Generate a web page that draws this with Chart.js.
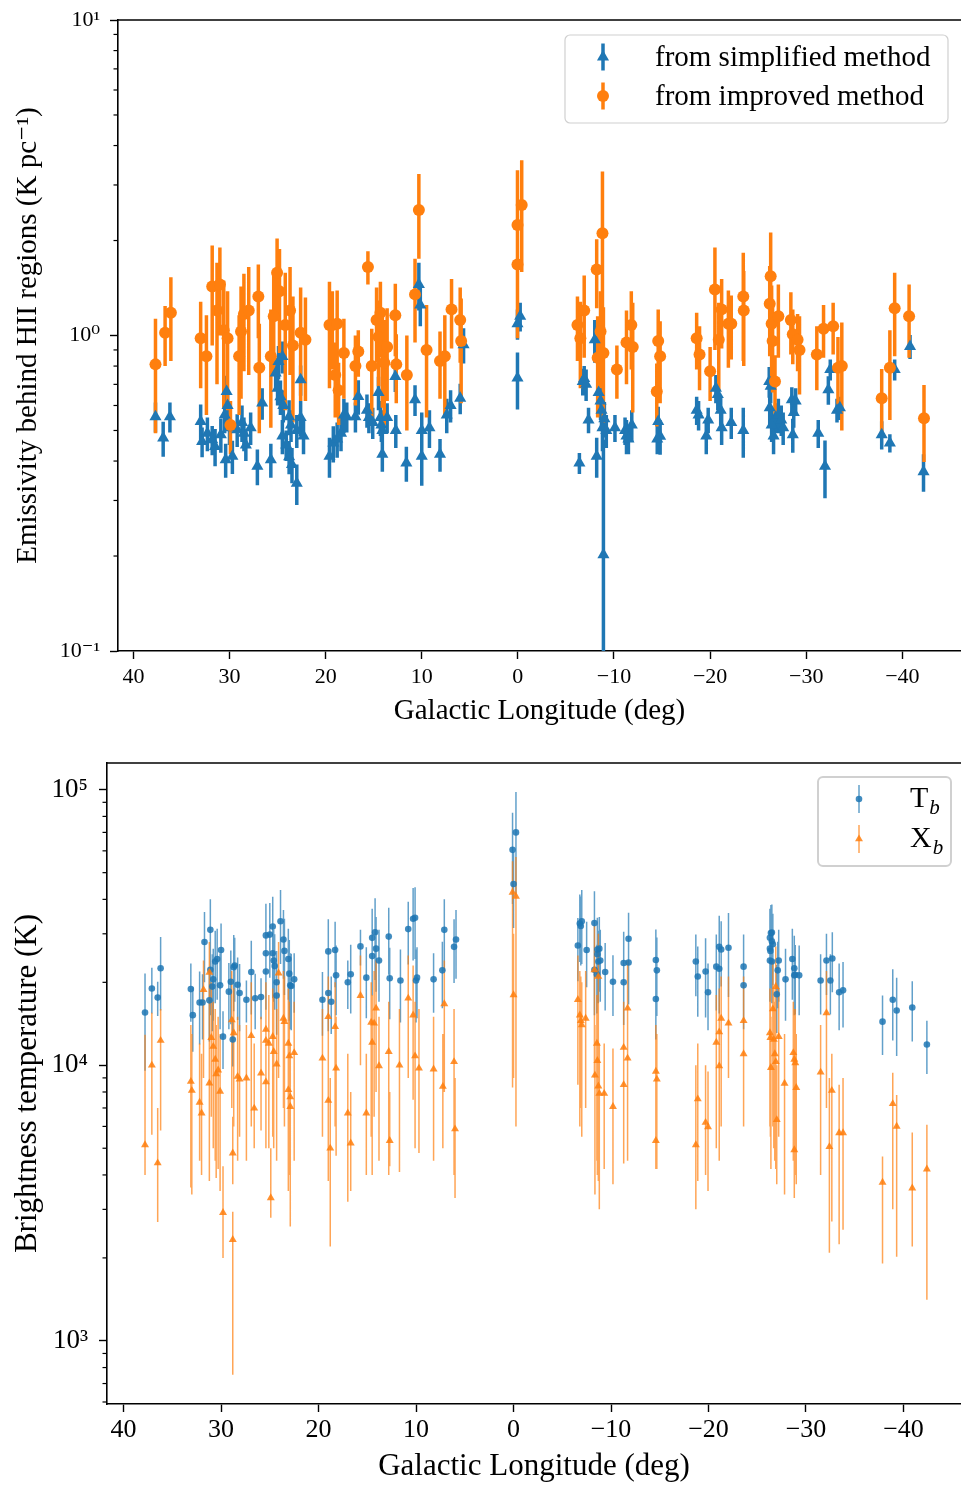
<!DOCTYPE html>
<html>
<head>
<meta charset="utf-8">
<script src="https://cdn.jsdelivr.net/npm/chart.js@4.4.0/dist/chart.umd.min.js"></script>
<style>
  html, body { margin: 0; padding: 0; background: #fff; }
  .panel { position: absolute; left: 0; width: 961px; }
  #p1 { top: 0; height: 740px; }
  #p2 { top: 740px; height: 746px; }
</style>
</head>
<body>
<div class="panel" id="p1"><canvas id="c1" width="961" height="740"></canvas></div>
<div class="panel" id="p2"><canvas id="c2" width="961" height="746"></canvas></div>
<script>
// ---- top panel: emissivity behind HII regions ----
const simpLon = [37.7, 36.9, 36.2, 33.0, 32.85, 32.3, 31.8, 31.5, 30.9, 30.5, 30.3, 30.2, 30.0, 30.4, 29.7, 29.2, 28.7, 28.5, 28.3, 27.8,
  27.1, 26.6, 25.7, 25.2, 24.9, 24.5, 25.0, 24.7, 24.4, 23.8, 23.6, 23.0, 22.6, 24.5, 24.1, 23.8, 23.5, 23.0, 22.3, 22.6,
  19.6, 19.2, 18.8, 18.4, 18.1, 17.8, 16.9, 16.6, 15.7, 15.5, 15.1, 14.5, 14.3, 14.2, 14.1, 14.1, 13.6, 12.75, 12.7, 11.6,
  10.7, 10.3, 10.15, 10.0, 10.0, 9.2, 8.1, 7.4, 7.0, 6.0, 5.65,
  0.04, -0.24, 0.04, -6.4, -6.75, -6.9, -7.1, -7.35, -8.0, -8.2, -8.4, -8.6, -8.7, -8.8, -8.9, -9.0, -9.2, -10.1, -11.15, -11.3,
  -11.85, -11.5, -14.6, -14.8, -14.5, -18.6, -18.8, -19.8, -19.6, -20.6, -20.8, -21.1, -21.2, -22.2, -23.45, -26.15, -26.3, -26.2, -26.4, -26.6,
  -26.8, -27.1, -27.4, -27.6, -28.5, -28.7, -28.9, -28.6, -31.25, -31.95, -32.3, -32.5, -33.2, -33.5, -37.85, -38.7, -39.2, -40.8, -42.2];
const simpVal = [0.553, 0.473, 0.553, 0.534, 0.461, 0.49, 0.467, 0.445, 0.485, 0.56, 0.665, 0.60, 0.51, 0.404, 0.414, 0.503, 0.53, 0.49, 0.45, 0.51,
  0.385, 0.611, 0.404, 0.76, 0.827, 0.858, 0.68, 0.64, 0.60, 0.553, 0.52, 0.50, 0.724, 0.48, 0.45, 0.413, 0.39, 0.34, 0.48, 0.55,
  0.414, 0.456, 0.47, 0.49, 0.56, 0.553, 0.553, 0.641, 0.58, 0.55, 0.53, 0.66, 0.55, 0.52, 0.50, 0.42, 0.55, 0.742, 0.50, 0.394,
  0.626, 1.45, 1.25, 0.414, 0.50, 0.51, 0.42, 0.56, 0.60, 0.633, 0.935,
  1.09, 1.15, 0.733, 0.394, 0.715, 0.73, 0.70, 0.54, 0.97, 0.414, 0.66, 0.62, 0.58, 0.51, 0.202, 0.545, 0.50, 0.51, 0.50, 0.48,
  0.52, 0.47, 0.534, 0.479, 0.47, 0.58, 0.56, 0.54, 0.48, 0.68, 0.65, 0.58, 0.51, 0.53, 0.50, 0.715, 0.69, 0.59, 0.52, 0.48,
  0.55, 0.56, 0.54, 0.51, 0.626, 0.57, 0.62, 0.485, 0.49, 0.385, 0.673, 0.78, 0.58, 0.59, 0.485, 0.456, 0.78, 0.923, 0.37];
const simpErr = [.06, .06, .06, .07, .05, .06, .05, .06, .06, .07, .08, .07, .06, .05, .05, .06, .07, .06, .05, .06,
  .05, .07, .05, .09, .10, .10, .08, .08, .07, .07, .06, .06, .08, .06, .05, .05, .05, .05, .06, .07,
  .06, .06, .06, .06, .07, .06, .06, .08, .07, .06, .06, .08, .07, .06, .06, .05, .06, .08, .06, .05,
  .07, .25, .18, .08, .07, .07, .05, .07, .07, .07, .12,
  .12, .12, .15, .03, .07, .07, .08, .05, .15, .06, .09, .08, .08, .08, .265, .07, .06, .05, .05, .06,
  .06, .05, .06, .06, .05, .06, .06, .05, .06, .07, .07, .06, .06, .06, .09, .08, .08, .07, .06, .06,
  .06, .07, .06, .06, .06, .06, .06, .06, .05, .08, .07, .06, .05, .05, .05, .03, .06, .08, .05];

const impLon = [37.7, 36.7, 36.1, 33.0, 32.4, 31.8, 31.0, 31.3, 30.6, 29.9, 30.2, 29.0, 28.8, 28.5, 28.0, 27.0, 26.9, 25.7, 25.4, 25.05,
  24.8, 24.2, 23.7, 23.4, 22.6, 22.1, 19.6, 19.3, 19.0, 18.8, 18.65, 18.1, 16.9, 16.6, 15.6, 15.2, 14.7, 14.5, 14.3, 14.1,
  13.9, 13.6, 12.75, 12.65, 11.55, 10.7, 10.3, 9.5, 8.1, 7.6, 6.9, 6.0, 5.9,
  0.04, 0.04, -0.4, -6.2, -6.5, -6.9, -8.2, -8.8, -8.6, -8.3, -8.9, -10.3, -11.3, -11.95, -11.8, -14.6, -14.8, -14.45, -18.6, -18.9,
  -20.0, -20.5, -20.9, -21.2, -21.9, -22.2, -23.45, -23.5, -26.3, -26.2, -26.4, -26.5, -26.75, -27.1, -28.4, -28.6, -29.1, -29.3, -31.1, -31.8,
  -32.8, -33.3, -33.7, -37.85, -38.7, -39.2, -40.7, -42.25];
const impVal = [0.81, 1.02, 1.18, 0.98, 0.86, 1.43, 1.45, 1.20, 1.04, 0.52, 0.98, 0.86, 1.03, 1.17, 1.20, 1.33, 0.79, 0.86, 1.15, 1.58,
  1.38, 1.08, 1.20, 0.93, 1.02, 0.97, 1.08, 1.08, 0.75, 1.09, 0.67, 0.88, 0.80, 0.89, 1.65, 0.80, 1.12, 0.99, 1.18, 0.89,
  0.82, 0.92, 1.16, 0.81, 0.75, 1.35, 2.50, 0.90, 0.83, 0.86, 1.21, 1.12, 0.96,
  2.24, 1.68, 2.59, 1.08, 0.98, 1.20, 1.62, 2.11, 1.03, 0.85, 0.88, 0.78, 0.95, 0.92, 1.08, 0.96, 0.86, 0.665, 0.98, 0.87,
  0.77, 1.40, 0.97, 1.21, 1.09, 1.09, 1.33, 1.20, 1.54, 1.26, 1.09, 0.96, 0.715, 1.15, 1.12, 1.01, 0.97, 0.90, 0.87, 1.05,
  1.07, 0.79, 0.80, 0.633, 0.79, 1.22, 1.15, 0.547];
const impErr = [.32, .22, .35, .30, .30, .50, .45, .50, .45, .10, .40, .30, .40, .40, .45, .35, .30, .35, .40, .45,
  .50, .50, .45, .40, .40, .35, .40, .30, .20, .30, .15, .25, .20, .15, .20, .25, .30, .30, .30, .30,
  .30, .30, .30, .20, .25, .40, .75, .35, .20, .30, .30, .30, .35,
  1.1, .70, 1.0, .25, .30, .35, .40, 1.2, .35, .30, .35, .15, .25, .35, .30, .25, .25, .15, .20, .20,
  .15, .50, .30, .30, .30, .25, .50, .40, .58, .40, .35, .30, .15, .30, .25, .20, .20, .25, .20, .20,
  .20, .20, .30, .15, .25, .36, .30, .15];

const topXTicks = [40, 30, 20, 10, 0, -10, -20, -30, -40];
const topYTicks = [0.1, 1, 10];

// ---- bottom panel: brightness temperature ----
const tbLon = [37.8, 37.1, 36.5, 36.2, 33.1, 32.9, 32.2, 31.9, 31.7, 31.1, 31.1, 31.2, 30.9, 30.8, 30.6, 30.4, 30.0, 30.1, 29.8, 29.2,
  29.0, 28.8, 28.7, 28.6, 28.3, 28.1, 27.4, 26.9, 26.5, 25.9, 25.4, 25.4, 25.4, 25.0, 24.7, 24.7, 24.6, 24.5, 24.3, 24.3,
  23.9, 23.6, 23.5, 23.1, 23.0, 22.9, 22.8, 22.5, 19.6, 19.0, 19.0, 18.7, 18.3, 18.2, 17.0, 16.7, 15.7, 15.1, 14.5, 14.5,
  14.2, 14.1, 13.8, 12.8, 12.7, 11.6, 10.8, 10.3, 10.1, 10.0, 9.9, 8.2, 7.3, 7.1, 6.1, 5.9, 0.1, -0.25, 0.0, -6.6,
  -6.8, -7.0, -6.9, -7.5, -8.3, -8.3, -8.6, -8.6, -8.7, -8.8, -8.9, -8.55, -9.4, -10.2, -11.3, -11.3, -11.8, -11.8, -14.6, -14.7,
  -14.6, -18.7, -18.9, -19.7, -19.95, -20.8, -21.1, -21.1, -21.3, -22.05, -23.6, -23.6, -26.3, -26.4, -26.5, -26.3, -26.35, -26.3, -26.5, -26.6,
  -26.5, -27.1, -27.2, -27.0, -27.9, -28.6, -28.8, -28.9, -28.8, -29.3, -31.5, -32.1, -32.5, -32.7, -33.4, -33.8, -37.85, -38.9, -39.3, -40.9,
  -42.4];
const tbVal = [15550, 19000, 17600, 22500, 18900, 15200, 16900, 16900, 28000, 31000, 22200, 17200, 19300, 20500, 23800, 24300, 26200, 19500, 12700, 18500,
  20100, 12400, 22700, 23000, 19600, 18300, 17300, 21800, 17500, 17700, 21900, 25500, 29600, 29800, 31900, 25500, 24000, 22900, 20000, 17900,
  33300, 28600, 26000, 24300, 21500, 19500, 19400, 20500, 17300, 25900, 18300, 17000, 26200, 21200, 20000, 21400, 27000, 20800, 29000, 24900,
  30400, 26500, 24000, 29300, 20700, 20300, 31200, 34000, 34300, 20300, 20800, 20500, 22100, 31000, 26900, 28600, 60500, 70000, 45500, 27200,
  32700, 33300, 32000, 26200, 32800, 22200, 25300, 26300, 23800, 26500, 24000, 21400, 21800, 20100, 23500, 20000, 28800, 23600, 24100, 22100,
  17400, 23800, 21000, 21900, 18400, 22800, 26900, 22400, 26300, 26700, 22800, 19500, 29000, 30200, 30300, 26500, 26000, 24000, 28200, 27500,
  23800, 22100, 24000, 18100, 20500, 24300, 22500, 21300, 21200, 21200, 20300, 24000, 20300, 24400, 18400, 18700, 14400, 17300, 15800, 16200,
  11900];
const tbErr = [6000, 3600, 2500, 6700, 4500, 4000, 5000, 4500, 8000, 9000, 7000, 5000, 6000, 6000, 7000, 7000, 6500, 6000, 3000, 5000,
  6000, 2500, 7000, 6000, 5000, 5000, 3000, 6500, 4000, 3000, 6000, 8000, 9000, 9000, 9000, 8000, 7000, 7000, 6000, 5000,
  10000, 8000, 8000, 7000, 7000, 6000, 6000, 5000, 4500, 8000, 5000, 4000, 7000, 6000, 4000, 6000, 4000, 6000, 8000, 7000,
  10000, 8000, 7000, 8000, 6000, 6000, 8000, 10000, 10000, 6000, 6000, 5000, 6000, 9000, 7000, 8000, 22000, 28000, 14000, 7000,
  9000, 10000, 9000, 7000, 10000, 7000, 8000, 8000, 7000, 8000, 7000, 6000, 6000, 5000, 7000, 6000, 7000, 7000, 7000, 7000,
  5000, 6000, 6000, 7000, 5000, 7000, 8000, 7000, 7000, 9000, 7000, 6000, 8000, 8000, 8000, 7000, 7000, 7000, 8000, 8000,
  7000, 6000, 7000, 5000, 6000, 7000, 7000, 6000, 6000, 6000, 5000, 6000, 5000, 6000, 5000, 5000, 3500, 5000, 5000, 4000,
  2600];

const xbLon = [37.8, 37.1, 36.5, 36.2, 33.1, 33.0, 32.2, 32.0, 31.8, 31.2, 31.2, 31.0, 30.8, 30.6, 30.5, 30.3, 30.1, 29.8, 28.9, 28.7,
  28.8, 28.8, 28.3, 28.1, 27.4, 26.9, 26.6, 25.9, 25.4, 25.4, 25.4, 24.9, 25.1, 24.7, 24.6, 24.3, 24.1, 23.6, 23.5, 23.1,
  23.0, 23.1, 22.9, 22.9, 22.5, 19.6, 19.0, 19.0, 18.8, 18.3, 18.2, 17.0, 16.7, 15.7, 15.1, 14.6, 14.5, 14.3, 14.1, 13.8,
  12.8, 12.7, 11.7, 10.8, 10.3, 10.1, 9.7, 8.2, 7.25, 7.1, 6.1, 6.0,
  0.1, -0.25, 0.0, -6.6, -6.8, -6.9, -7.0, -7.4,
  -8.3, -8.7, -8.35, -8.55, -8.6, -8.7, -8.8, -9.3, -10.2, -11.3, -11.3, -11.7, -11.7, -14.6, -14.7, -14.6, -18.9, -18.7, -19.7, -19.95,
  -20.8, -21.1, -21.1, -21.3, -22.05, -23.6, -23.6, -26.3, -26.35, -26.4, -26.9, -26.6, -26.7, -26.8, -26.9, -27.0, -27.2, -27.8, -28.7, -28.8,
  -28.9, -29.0, -28.8, -31.5, -32.1, -32.4, -32.65, -33.4, -33.8, -37.85, -38.9, -39.3, -40.9, -42.4];
const xbVal = [5140, 10000, 4420, 12300, 8730, 8100, 7330, 6700, 18800, 21700, 8610, 12600, 11700, 10500, 9300, 9600, 8040, 2920, 14600, 13100,
  4800, 2330, 9100, 8900, 8980, 12800, 6980, 9360, 13500, 12300, 8700, 3300, 12000, 12700, 11200, 10100, 21600, 14800, 14400, 12000,
  10800, 8150, 7670, 7080, 11100, 10600, 15000, 7450, 5000, 13800, 9750, 6700, 5220, 17900, 6700, 14300, 12100, 14200, 16100, 9950,
  11200, 5330, 10000, 17500, 15200, 10800, 9750, 9680, 8370, 16700, 10300, 5870,
  42400, 41000, 18000, 17300, 15200, 14500, 14000, 14800,
  22200, 21000, 9200, 12000, 10400, 8400, 7900, 7900, 7080, 11600, 8500, 16100, 10600, 9500, 8900, 5330, 7540, 5140, 6200, 5970,
  12100, 13200, 9940, 14800, 14200, 14500, 11000, 13100, 12600, 9800, 19300, 16000, 12400, 11000, 10300, 6340, 12700, 8600, 11100, 10500,
  10200, 8300, 4930, 9430, 15500, 5060, 8100, 5680, 5680, 3760, 7250, 6000, 3580, 4200];
const xbLo = [4000, 5600, 2700, 5800, 3600, 3400, 4500, 4000, 9000, 10000, 3800, 6500, 5000, 4500, 3900, 4200, 3500, 2000, 7000, 6000,
  3700, 754, 4500, 5500, 4500, 6000, 5000, 5800, 6000, 5000, 5300, 2800, 5000, 5500, 5000, 4500, 9000, 7000, 6000, 4500,
  4000, 3500, 3000, 2600, 4500, 5500, 7000, 3800, 2200, 6000, 4700, 3200, 3500, 10000, 4000, 5500, 4000, 6500, 8000, 4500,
  4000, 4300, 4100, 9000, 7500, 5000, 4800, 4500, 5000, 8000, 4000, 3300,
  8300, 6000, 9000, 8500, 6000, 7000, 5500, 7000,
  9000, 10000, 3400, 4500, 4000, 3800, 3000, 4200, 3700, 5500, 4400, 9000, 4500, 5500, 4200, 4200, 3800, 3000, 4000, 3500,
  5000, 6500, 4500, 6000, 9000, 7500, 6000, 6000, 5500, 4200, 9000, 6000, 5000, 4500, 4200, 3700, 5500, 3400, 4500, 4000,
  4000, 3700, 3300, 4000, 7000, 2090, 2710, 2240, 2530, 1910, 3000, 2020, 2200, 1410];
const xbHi = [12900, 15500, 7000, 16000, 14000, 13000, 12000, 11000, 24000, 28000, 14000, 20000, 17000, 16000, 14000, 15000, 13000, 4300, 22000, 19000,
  6500, 2940, 15000, 14000, 14000, 20000, 12000, 15000, 20000, 19000, 13000, 5000, 18000, 19000, 18000, 16000, 28000, 22000, 21000, 19000,
  17000, 13000, 12000, 11000, 17000, 16000, 21000, 13000, 9000, 20000, 15000, 11000, 8000, 25000, 11000, 20000, 18000, 22000, 24000, 15000,
  17000, 8000, 16000, 25000, 23000, 17000, 16000, 15000, 13000, 24000, 16000, 9000,
  55000, 57000, 30000, 25000, 22000, 21000, 20000, 22000,
  32000, 30000, 14000, 18000, 16000, 13000, 12000, 12000, 11500, 17000, 13000, 24000, 16000, 14000, 13000, 9000, 12000, 10000, 10000, 9500,
  18000, 19000, 15000, 21000, 21000, 21000, 16000, 19000, 19000, 15000, 27000, 24000, 19000, 17000, 16000, 10000, 19000, 13000, 17000, 16000,
  16000, 13000, 8000, 14000, 22000, 9000, 11000, 8500, 9000, 4670, 9400, 7800, 5700, 6080];

const botXTicks = [40, 30, 20, 10, 0, -10, -20, -30, -40];
const botYTicks = [1000, 10000, 100000];

const BLUE = '#1f77b4';
const ORANGE = '#ff7f0e';
const SERIF = '"Liberation Serif", "DejaVu Serif", serif';
Chart.defaults.font.family = SERIF;
Chart.defaults.color = '#000';

// build the line segments for error bars, broken by null points
function symBars(lon, val, err) {
  const pts = [];
  lon.forEach((x, i) => {
    pts.push({x: x, y: Math.max(val[i] - err[i], 1e-3)}, {x: x, y: val[i] + err[i]}, {x: x, y: null});
  });
  return pts;
}
function rangeBars(lon, lo, hi) {
  const pts = [];
  lon.forEach((x, i) => {
    pts.push({x: x, y: lo[i]}, {x: x, y: hi[i]}, {x: x, y: null});
  });
  return pts;
}
function points(lon, val) {
  return lon.map((x, i) => ({x: x, y: val[i]}));
}

const SUP = {'0': '\u2070', '1': '\u00b9', '2': '\u00b2', '3': '\u00b3', '4': '\u2074', '5': '\u2075', '-': '\u207b'};
function logLabel(v) {
  const e = String(Math.round(Math.log10(v)));
  return '10' + e.split('').map(c => SUP[c]).join('');
}
function lonLabel(v) {
  return v < 0 ? '\u2212' + Math.abs(v) : String(v);
}
function minorValues(lo, hi) {
  const out = [];
  for (let d = lo; d <= hi; d++) {
    for (let m = 2; m <= 9; m++) out.push(m * Math.pow(10, d));
  }
  return out;
}

// minor log ticks and the top spine
const axisExtras = {
  id: 'axisExtras',
  afterDraw(chart, args, o) {
    const ctx = chart.ctx, a = chart.chartArea, ys = chart.scales.y;
    ctx.save();
    ctx.strokeStyle = '#000';
    ctx.lineWidth = 1.2;
    o.minor.forEach(v => {
      const py = ys.getPixelForValue(v);
      if (py < a.top - 0.5 || py > a.bottom + 0.5) return;
      ctx.beginPath();
      ctx.moveTo(a.left - 4.5, py);
      ctx.lineTo(a.left, py);
      ctx.stroke();
    });
    ctx.lineWidth = 1.6;
    ctx.beginPath();
    ctx.moveTo(a.left - 0.8, a.top);
    ctx.lineTo(a.right, a.top);
    ctx.stroke();
    ctx.restore();
  }
};

// matplotlib-like legend with error bar handles
const errLegend = {
  id: 'errLegend',
  afterDraw(chart, args, o) {
    const ctx = chart.ctx, a = chart.chartArea;
    const x0 = a.right - o.right - o.width, y0 = a.top + o.top;
    ctx.save();
    ctx.beginPath();
    if (ctx.roundRect) ctx.roundRect(x0, y0, o.width, o.height, 5);
    else ctx.rect(x0, y0, o.width, o.height);
    ctx.fillStyle = 'rgba(255,255,255,0.8)';
    ctx.fill();
    ctx.lineWidth = o.borderWidth;
    ctx.strokeStyle = '#d0d0d0';
    ctx.stroke();
    o.items.forEach((it, i) => {
      const cx = x0 + o.markerX, cy = y0 + o.rowY[i];
      ctx.globalAlpha = it.barAlpha;
      ctx.strokeStyle = it.color;
      ctx.lineWidth = it.barWidth;
      ctx.beginPath();
      ctx.moveTo(cx, cy - o.barHalf);
      ctx.lineTo(cx, cy + o.barHalf);
      ctx.stroke();
      ctx.globalAlpha = it.markAlpha;
      ctx.fillStyle = it.color;
      ctx.beginPath();
      const r = it.radius;
      if (it.style === 'circle') {
        ctx.arc(cx, cy, r, 0, Math.PI * 2);
      } else {
        ctx.moveTo(cx, cy - r);
        ctx.lineTo(cx + r * 0.866, cy + r / 2);
        ctx.lineTo(cx - r * 0.866, cy + r / 2);
        ctx.closePath();
      }
      ctx.fill();
      ctx.globalAlpha = 1;
      ctx.fillStyle = '#000';
      ctx.textBaseline = 'middle';
      ctx.textAlign = 'left';
      ctx.font = o.fontSize + 'px ' + SERIF;
      ctx.fillText(it.label, x0 + o.textX, cy + o.textDy);
      if (it.sub) {
        const w = ctx.measureText(it.label).width;
        ctx.font = 'italic ' + Math.round(o.fontSize * 0.7) + 'px ' + SERIF;
        ctx.fillText(it.sub, x0 + o.textX + w + 1, cy + o.textDy + o.fontSize * 0.3);
      }
    });
    ctx.restore();
  }
};

function axes(c) {
  return {
    x: {
      type: 'linear', reverse: true, min: c.xMin, max: c.xMax,
      afterBuildTicks: s => { s.ticks = c.xTicks.map(v => ({value: v})); },
      afterFit: s => { s.height = c.xHeight; s.paddingLeft = 0; s.paddingRight = 0; s.paddingTop = 0; s.paddingBottom = 0; },
      ticks: {autoSkip: false, maxRotation: 0, color: '#000', padding: c.xPad,
        font: {family: SERIF, size: c.tickSize}, callback: v => lonLabel(v)},
      grid: {drawOnChartArea: false, tickLength: 8, tickWidth: 1.4, tickColor: '#000'},
      border: {color: '#000', width: 1.6},
      title: {display: true, text: 'Galactic Longitude (deg)', color: '#000',
        font: {family: SERIF, size: c.titleSize}, padding: {top: 0, bottom: c.xTitlePad}}
    },
    y: {
      type: 'logarithmic', min: c.yMin, max: c.yMax,
      afterBuildTicks: s => { s.ticks = c.yTicks.map(v => ({value: v, major: true})); },
      afterFit: s => { s.width = c.yWidth; s.paddingLeft = 0; s.paddingRight = 0; s.paddingTop = 0; s.paddingBottom = 0; },
      ticks: {autoSkip: false, color: '#000', padding: c.yPad,
        font: {family: SERIF, size: c.yTickSize}, callback: v => logLabel(v)},
      grid: {drawOnChartArea: false, tickLength: 8, tickWidth: 1.4, tickColor: '#000'},
      border: {color: '#000', width: 1.6},
      title: {display: true, text: c.yTitle, color: '#000',
        font: {family: SERIF, size: c.titleSize}, padding: {top: c.yTitlePad, bottom: 0}}
    }
  };
}

function barSet(data, color, width, order) {
  return {type: 'scatter', data: data, showLine: true, spanGaps: false, borderColor: color,
    borderWidth: width, pointRadius: 0, pointHoverRadius: 0, fill: false, tension: 0, order: order};
}
function markSet(data, color, style, radius, order) {
  return {type: 'scatter', data: data, pointStyle: style, pointRadius: radius, pointHoverRadius: radius,
    pointBackgroundColor: color, pointBorderWidth: 0, borderWidth: 0, showLine: false, order: order};
}

// top chart
new Chart(document.getElementById('c1'), {
  type: 'scatter',
  data: {
    datasets: [
      barSet(symBars(simpLon, simpVal, simpErr), BLUE, 3.5, 4),
      barSet(symBars(impLon, impVal, impErr), ORANGE, 3.5, 3),
      markSet(points(simpLon, simpVal), BLUE, 'triangle', 7, 2),
      markSet(points(impLon, impVal), ORANGE, 'circle', 6, 1)
    ]
  },
  options: {
    responsive: false, animation: false, devicePixelRatio: 1,
    layout: {autoPadding: false, padding: {top: 20, right: 0, bottom: 0, left: 0}},
    scales: axes({xMin: -46.1, xMax: 41.6, xTicks: topXTicks, xHeight: 89, xPad: 5, tickSize: 22, yTickSize: 22,
      titleSize: 29, xTitlePad: 11, yMin: 0.1, yMax: 10, yTicks: topYTicks, yWidth: 118, yPad: 10,
      yTitle: 'Emissivity behind HII regions (K pc\u207b\u00b9)', yTitlePad: 11}),
    plugins: {
      legend: {display: false},
      tooltip: {enabled: false},
      axisExtras: {minor: minorValues(-1, 0)},
      errLegend: {right: 13, top: 15, width: 383, height: 88, rowY: [22, 61], markerX: 38, textX: 90,
        barHalf: 13.5, fontSize: 29, textDy: 1, borderWidth: 1.2,
        items: [
          {label: 'from simplified method', color: BLUE, style: 'triangle', radius: 7, barWidth: 3.5, barAlpha: 1, markAlpha: 1},
          {label: 'from improved method', color: ORANGE, style: 'circle', radius: 6, barWidth: 3.5, barAlpha: 1, markAlpha: 1}
        ]}
    }
  },
  plugins: [axisExtras, errLegend]
});

// bottom chart
new Chart(document.getElementById('c2'), {
  type: 'scatter',
  data: {
    datasets: [
      barSet(symBars(tbLon, tbVal, tbErr), 'rgba(31,119,180,0.7)', 1.5, 4),
      barSet(rangeBars(xbLon, xbLo, xbHi), 'rgba(255,127,14,0.7)', 1.5, 3),
      markSet(points(tbLon, tbVal), 'rgba(31,119,180,0.85)', 'circle', 3.3, 2),
      markSet(points(xbLon, xbVal), 'rgba(255,127,14,0.85)', 'triangle', 4.6, 1)
    ]
  },
  options: {
    responsive: false, animation: false, devicePixelRatio: 1,
    layout: {autoPadding: false, padding: {top: 23, right: 0, bottom: 0, left: 0}},
    scales: axes({xMin: -45.9, xMax: 41.7, xTicks: botXTicks, xHeight: 82, xPad: 3, tickSize: 26, yTickSize: 27,
      titleSize: 31, xTitlePad: 1, yMin: 590, yMax: 125000, yTicks: botYTicks, yWidth: 107, yPad: 11,
      yTitle: 'Brightness temperature (K)', yTitlePad: 9}),
    plugins: {
      legend: {display: false},
      tooltip: {enabled: false},
      axisExtras: {minor: minorValues(2, 4)},
      errLegend: {right: 10, top: 14, width: 133, height: 89, rowY: [22, 62], markerX: 41, textX: 92,
        barHalf: 14, fontSize: 30, textDy: 0, borderWidth: 2,
        items: [
          {label: 'T', sub: 'b', color: BLUE, style: 'circle', radius: 3.3, barWidth: 1.5, barAlpha: 0.7, markAlpha: 0.85},
          {label: 'X', sub: 'b', color: ORANGE, style: 'triangle', radius: 4.6, barWidth: 1.5, barAlpha: 0.7, markAlpha: 0.85}
        ]}
    }
  },
  plugins: [axisExtras, errLegend]
});
</script>
</body>
</html>
